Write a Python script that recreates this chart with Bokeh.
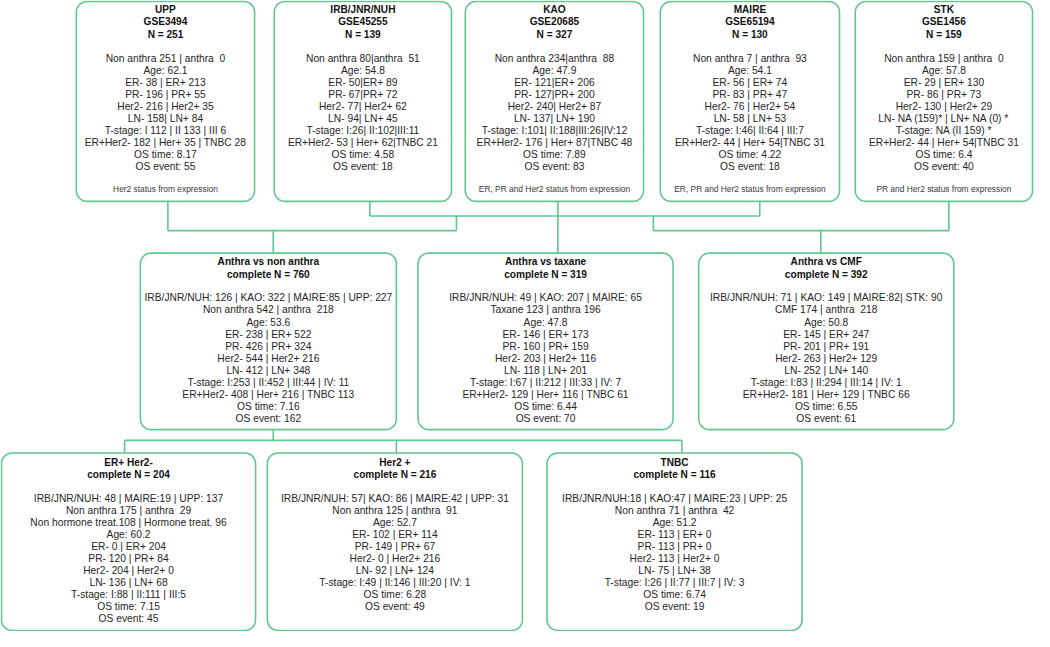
import numpy as np
from bokeh.plotting import figure
from bokeh.models import Range1d
from bokeh.embed import file_html
from bokeh.resources import INLINE
from bokeh.core.properties import value

# ---------------- data (texts of each box) ----------------
upp_title = ["UPP", "GSE3494", "N = 251"]
upp_lines = ["Non anthra 251 | anthra \u00a00", "Age: 62.1", "ER- 38 | ER+ 213", "PR- 196 | PR+ 55",
             "Her2- 216 | Her2+ 35", "LN- 158| LN+ 84", "T-stage: I 112 | II 133 | III 6",
             "ER+Her2- 182 | Her+ 35 | TNBC 28", "OS time: 8.17", "OS event: 55"]
upp_note = "Her2 status from expression"

irb_title = ["IRB/JNR/NUH", "GSE45255", "N = 139"]
irb_lines = ["Non anthra 80|anthra \u00a051", "Age: 54.8", "ER- 50|ER+ 89", "PR- 67|PR+ 72",
             "Her2- 77| Her2+ 62", "LN- 94| LN+ 45", "T-stage: I:26| II:102|III:11",
             "ER+Her2- 53 | Her+ 62|TNBC 21", "OS time: 4.58", "OS event: 18"]
irb_note = ""

kao_title = ["KAO", "GSE20685", "N = 327"]
kao_lines = ["Non anthra 234|anthra \u00a088", "Age: 47.9", "ER- 121|ER+ 206", "PR- 127|PR+ 200",
             "Her2- 240| Her2+ 87", "LN- 137| LN+ 190", "T-stage: I:101| II:188|III:26|IV:12",
             "ER+Her2- 176 | Her+ 87|TNBC 48", "OS time: 7.89", "OS event: 83"]
kao_note = "ER, PR and Her2 status from expression"

maire_title = ["MAIRE", "GSE65194", "N = 130"]
maire_lines = ["Non anthra 7 | anthra \u00a093", "Age: 54.1", "ER- 56 | ER+ 74", "PR- 83 | PR+ 47",
               "Her2- 76 | Her2+ 54", "LN- 58 | LN+ 53", "T-stage: I:46| II:64 | III:7",
               "ER+Her2- 44 | Her+ 54|TNBC 31", "OS time: 4.22", "OS event: 18"]
maire_note = "ER, PR and Her2 status from expression"

stk_title = ["STK", "GSE1456", "N = 159"]
stk_lines = ["Non anthra 159 | anthra \u00a00", "Age: 57.8", "ER- 29 | ER+ 130", "PR- 86 | PR+ 73",
             "Her2- 130 | Her2+ 29", "LN- NA (159)* | LN+ NA (0) *", "T-stage: NA (II 159) *",
             "ER+Her2- 44 | Her+ 54|TNBC 31", "OS time: 6.4", "OS event: 40"]
stk_note = "PR and Her2 status from expression"

nonanthra_title = ["Anthra vs non anthra", "complete N = 760"]
nonanthra_lines = ["IRB/JNR/NUH: 126 | KAO: 322 | MAIRE:85 | UPP: 227", "Non anthra 542 | anthra \u00a0218",
                   "Age: 53.6", "ER- 238 | ER+ 522", "PR- 426 | PR+ 324", "Her2- 544 | Her2+ 216",
                   "LN- 412 | LN+ 348", "T-stage: I:253 | II:452 | III:44 | IV: 11",
                   "ER+Her2- 408 | Her+ 216 | TNBC 113", "OS time: 7.16", "OS event: 162"]

taxane_title = ["Anthra vs taxane", "complete N = 319"]
taxane_lines = ["IRB/JNR/NUH: 49 | KAO: 207 | MAIRE: 65", "Taxane 123 | anthra 196", "Age: 47.8",
                "ER- 146 | ER+ 173", "PR- 160 | PR+ 159", "Her2- 203 | Her2+ 116", "LN- 118 | LN+ 201",
                "T-stage: I:67 | II:212 | III:33 | IV: 7", "ER+Her2- 129 | Her+ 116 | TNBC 61",
                "OS time: 6.44", "OS event: 70"]

cmf_title = ["Anthra vs CMF", "complete N = 392"]
cmf_lines = ["IRB/JNR/NUH: 71 | KAO: 149 | MAIRE:82| STK: 90", "CMF 174 | anthra \u00a0218", "Age: 50.8",
             "ER- 145 | ER+ 247", "PR- 201 | PR+ 191", "Her2- 263 | Her2+ 129", "LN- 252 | LN+ 140",
             "T-stage: I:83 | II:294 | III:14 | IV: 1", "ER+Her2- 181 | Her+ 129 | TNBC 66",
             "OS time: 6.55", "OS event: 61"]

erp_title = ["ER+ Her2-", "complete N = 204"]
erp_lines = ["IRB/JNR/NUH: 48 | MAIRE:19 | UPP: 137", "Non anthra 175 | anthra \u00a029",
             "Non hormone treat.108 | Hormone treat. 96", "Age: 60.2", "ER- 0 | ER+ 204",
             "PR- 120 | PR+ 84", "Her2- 204 | Her2+ 0", "LN- 136 | LN+ 68",
             "T-stage: I:88 | II:111 | III:5", "OS time: 7.15", "OS event: 45"]

her2_title = ["Her2 +", "complete N = 216"]
her2_lines = ["IRB/JNR/NUH: 57| KAO: 86 | MAIRE:42 | UPP: 31", "Non anthra 125 | anthra \u00a091",
              "Age: 52.7", "ER- 102 | ER+ 114", "PR- 149 | PR+ 67", "Her2- 0 | Her2+ 216",
              "LN- 92 | LN+ 124", "T-stage: I:49 | II:146 | III:20 | IV: 1", "OS time: 6.28",
              "OS event: 49"]

tnbc_title = ["TNBC", "complete N = 116"]
tnbc_lines = ["IRB/JNR/NUH:18 | KAO:47 | MAIRE:23 | UPP: 25", "Non anthra 71 | anthra \u00a042",
              "Age: 51.2", "ER- 113 | ER+ 0", "PR- 113 | PR+ 0", "Her2- 113 | Her2+ 0",
              "LN- 75 | LN+ 38", "T-stage: I:26 | II:77 | III:7 | IV: 3", "OS time: 6.74",
              "OS event: 19"]

# ---------------- layout (reference pixel coordinates) ----------------
GREEN = "#5fc78f"
W, H = 1050, 647

# (x0, x1, y0, y1, title_y, content_y, note_y, title, lines, note)
boxes = [
    (77, 258, 1, 206, 9.4, 59.3, 193.3, upp_title, upp_lines, upp_note),
    (278, 458, 1, 206, 9.4, 59.3, 193.3, irb_title, irb_lines, irb_note),
    (472, 653, 1, 206, 9.4, 59.3, 193.3, kao_title, kao_lines, kao_note),
    (670, 852, 1, 206, 9.4, 59.3, 193.3, maire_title, maire_lines, maire_note),
    (868, 1048, 1, 206, 9.4, 59.3, 193.3, stk_title, stk_lines, stk_note),
    (142, 402, 259, 440, 268.0, 305.0, None, nonanthra_title, nonanthra_lines, ""),
    (424, 683, 259, 440, 268.0, 305.0, None, taxane_title, taxane_lines, ""),
    (709, 968, 259, 440, 268.0, 305.0, None, cmf_title, cmf_lines, ""),
    (1, 259, 464, 646, 473.3, 510.7, None, erp_title, erp_lines, ""),
    (271, 530, 464, 646, 473.3, 510.7, None, her2_title, her2_lines, ""),
    (555, 814, 464, 646, 473.3, 510.7, None, tnbc_title, tnbc_lines, ""),
]

connectors = [
    ([170, 170], [206, 236]), ([375, 375], [206, 221]), ([566, 566], [206, 259]),
    ([771, 771], [206, 221]), ([963, 963], [206, 236]),
    ([375, 771], [221, 221]), ([463, 463], [221, 236]), ([663, 663], [221, 236]),
    ([170, 463], [236, 236]), ([663, 963], [236, 236]),
    ([277, 277], [236, 259]), ([833, 833], [236, 259]),
    ([277, 277], [440, 451]), ([126, 692], [451, 451]),
    ([126, 126], [451, 464]), ([402, 402], [451, 464]), ([692, 692], [451, 464]),
]

TITLE_STEP = 12.5
LINE_STEP = 12.33
RADIUS = 11


def rounded(x0, x1, y0, y1, r):
    xs, ys = [], []
    corners = [(x1 - r, y0 + r, -90, 0), (x1 - r, y1 - r, 0, 90),
               (x0 + r, y1 - r, 90, 180), (x0 + r, y0 + r, 180, 270)]
    for cx, cy, a0, a1 in corners:
        t = np.radians(np.linspace(a0, a1, 12))
        xs.extend(cx + r * np.cos(t))
        ys.extend(cy + r * np.sin(t))
    return xs, ys


p = figure(width=1034, height=631, output_backend="svg", toolbar_location=None,
           x_range=Range1d(0, W), y_range=Range1d(H, 0), min_border=0)
p.axis.visible = False
p.grid.visible = False
p.outline_line_color = None
p.background_fill_color = "white"

for xs, ys in connectors:
    p.line(xs, ys, line_color=GREEN, line_width=1.6)

pxs, pys = [], []
for b in boxes:
    xs, ys = rounded(b[0], b[1], b[2], b[3], RADIUS)
    pxs.append(xs)
    pys.append(ys)
p.patches(pxs, pys, fill_color="white", line_color=GREEN, line_width=1.6)

tx, ty, tt = [], [], []
cx_, cy_, ct = [], [], []
nx, ny, nt = [], [], []
for (x0, x1, y0, y1, tyy, cyy, nyy, title, lines, note) in boxes:
    xc = (x0 + x1) / 2
    for i, s in enumerate(title):
        tx.append(xc); ty.append(tyy + i * TITLE_STEP); tt.append(s)
    for i, s in enumerate(lines):
        cx_.append(xc); cy_.append(cyy + i * LINE_STEP); ct.append(s)
    if note:
        nx.append(xc); ny.append(nyy); nt.append(note)

FONT = value("Liberation Sans")
p.text(x=tx, y=ty, text=tt, text_font=FONT, text_font_style="bold", text_font_size="10.1px",
       text_color="#111111", text_align="center", text_baseline="middle")
p.text(x=cx_, y=cy_, text=ct, text_font=FONT, text_font_size="10.25px",
       text_color="#262626", text_align="center", text_baseline="middle")
p.text(x=nx, y=ny, text=nt, text_font=FONT, text_font_size="8.4px",
       text_color="#3a3a3a", text_align="center", text_baseline="middle")

open("out.html", "w").write(file_html(p, INLINE))
